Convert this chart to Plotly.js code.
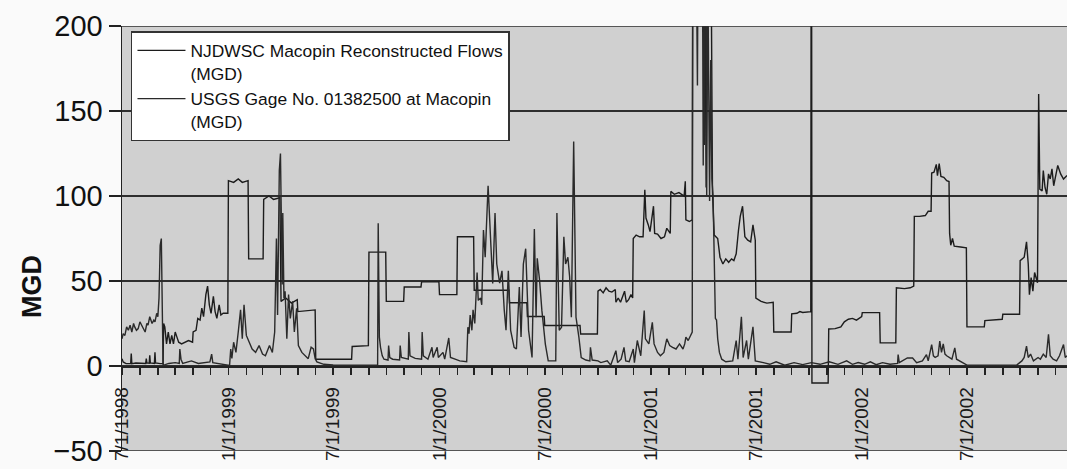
<!DOCTYPE html>
<html>
<head>
<meta charset="utf-8">
<script src="https://cdn.plot.ly/plotly-3.0.1.min.js"></script>
<style>
  html, body { margin: 0; padding: 0; background: #fafafa; }
  #chart { width: 1067px; height: 469px; }
</style>
</head>
<body>
<div id="chart"></div>
<script>
// ---- Data ----
const reconName = "NJDWSC Macopin Reconstructed Flows<br>(MGD)";
const gageName = "USGS Gage No. 01382500 at Macopin<br>(MGD)";

const reconDates = [
"1998-07-01","1998-07-03","1998-07-08","1998-07-16","1998-07-17","1998-07-18","1998-07-25","1998-08-01","1998-08-11","1998-08-12","1998-08-13","1998-08-17","1998-08-18","1998-08-19","1998-08-26","1998-08-27","1998-08-28","1998-09-05","1998-09-10","1998-09-11","1998-09-13","1998-09-16","1998-09-19","1998-09-22","1998-09-25","1998-09-28","1998-10-01","1998-10-04","1998-10-07","1998-10-12","1998-10-18","1998-10-24","1998-10-31","1998-11-01","1998-11-06","1998-11-09","1998-11-13","1998-11-16","1998-11-19","1998-11-23","1998-11-26","1998-11-29","1998-12-02","1998-12-06","1998-12-09","1998-12-12","1998-12-16","1998-12-19","1998-12-23","1998-12-31",
"1999-01-01","1999-01-10","1999-01-18","1999-01-25","1999-02-04","1999-02-05","1999-03-02","1999-03-03","1999-03-12","1999-03-20","1999-03-31","1999-04-02","1999-04-10","1999-04-20","1999-04-30","1999-05-01","1999-05-31","1999-06-01","1999-08-02","1999-08-03","1999-08-31","1999-09-01","1999-09-30","1999-10-01","1999-10-31","1999-11-01","1999-11-30","1999-12-01","1999-12-31",
"2000-01-01","2000-01-31","2000-02-01","2000-02-29","2000-03-01","2000-04-30","2000-05-01","2000-05-31","2000-06-01","2000-06-30","2000-07-01","2000-08-31","2000-09-01","2000-09-30",
"2000-10-01","2000-10-05","2000-10-10","2000-10-15","2000-10-20","2000-10-25","2000-10-31","2000-11-01","2000-11-05","2000-11-09","2000-11-13","2000-11-16","2000-11-19","2000-11-23","2000-11-27","2000-11-30","2000-12-01","2000-12-06","2000-12-12","2000-12-18","2000-12-21","2000-12-23","2000-12-27","2000-12-30",
"2001-01-05","2001-01-07","2001-01-12","2001-01-18","2001-01-24","2001-01-28","2001-02-03","2001-02-04","2001-02-10","2001-02-18","2001-02-27","2001-03-01","2001-03-02","2001-03-08","2001-03-13",
"2001-03-14","2001-03-20","2001-03-24","2001-04-04","2001-04-06","2001-04-08","2001-04-15","2001-04-17","2001-04-20","2001-04-26","2001-04-30","2001-05-05","2001-05-10","2001-05-15","2001-05-20","2001-05-24","2001-05-28","2001-06-01","2001-06-04","2001-06-08","2001-06-12","2001-06-17","2001-06-22","2001-06-26","2001-06-30","2001-07-01","2001-07-10","2001-07-20","2001-07-31","2001-08-01","2001-08-31","2001-09-01","2001-09-10","2001-09-15","2001-09-20","2001-10-04","2001-10-05","2001-10-06","2001-11-03","2001-11-04","2001-11-15","2001-11-25","2001-12-01","2001-12-08","2001-12-15","2001-12-22","2001-12-31",
"2002-01-01","2002-01-31","2002-02-01","2002-02-28","2002-03-01","2002-03-15","2002-03-25","2002-03-31","2002-04-01","2002-04-10","2002-04-20","2002-04-25","2002-04-30","2002-05-01","2002-05-05","2002-05-09","2002-05-11","2002-05-14","2002-05-17","2002-05-22","2002-05-27","2002-05-31","2002-06-01","2002-06-03","2002-06-06","2002-06-09","2002-06-20","2002-06-30","2002-07-01","2002-07-31","2002-08-01","2002-08-15","2002-08-31","2002-09-01","2002-09-30","2002-10-01","2002-10-08","2002-10-12","2002-10-15","2002-10-17","2002-10-20","2002-10-23","2002-10-26","2002-10-31","2002-11-02","2002-11-04","2002-11-08","2002-11-10","2002-11-13","2002-11-16","2002-11-19","2002-11-22","2002-11-25","2002-11-28","2002-12-01","2002-12-05","2002-12-10","2002-12-15","2002-12-21"
];
const reconValues = [
4.3,2.4,1.4,1.5,7.3,1.4,1.8,1.6,1.5,4.3,1.8,1.6,6.3,1.8,1.5,8,1.8,1.4,1.4,25,23,13,20,13,18,13,20,17,14,13,14,15,14,20,21,28,27,34,29,42,47,36,31,41,32,28,36,30,31,31,
109,108,110,108,109,63,63,98,100,98,99,38,40,37,39,32,33,4,4,11.5,12,67,67,38,38,46.5,46.5,49.5,49.5,
42,42,76,76,44.6,44.6,37.2,37.2,29.1,29.1,23.8,23.8,18.8,18.8,
44,45,43,46,44,43.5,45,37.5,40,37.5,41,44,37.5,39,42,40,75,77,76,76,103.6,87,83,79,
94,78,77.6,75,76,81,78,102.7,101,102,100,108.6,86,85,86,
270,250,280,240,105,230,220,102,77,75,64,60,63,61,63,62,66,80,88,94,76,74,73,83,74,40,38,37,37.5,20,20,30.7,31,32,31.5,32,400,-10,-10,21.8,22,23,26,27.5,28,27,29,
31.4,31.4,13.6,13.6,46,45.5,46,47,88,88,88.5,91,91,113.5,114,118.6,112,119,111.5,111,109,108.5,78,71,75,70.5,70,69.5,23,23,26.7,27,27.5,30.4,30.4,62,64,73,60,42,52,44,55,49,160,104,103,115,105,101,113,110,116,106,112,118,113,110,112
];

const gageDates = [
"1998-07-01","1998-07-03","1998-07-06","1998-07-09","1998-07-12","1998-07-15","1998-07-18","1998-07-21","1998-07-23","1998-07-26","1998-07-29","1998-08-01","1998-08-04","1998-08-07","1998-08-10","1998-08-13","1998-08-15","1998-08-18","1998-08-20","1998-08-22","1998-08-25","1998-08-27","1998-08-30","1998-09-01","1998-09-03","1998-09-05","1998-09-07","1998-09-08","1998-09-10","1998-09-20","1998-10-01","1998-10-08","1998-10-09","1998-10-11","1998-10-14","1998-10-29","1998-11-10","1998-11-30","1998-12-03","1998-12-05","1998-12-20",
"1999-01-03","1999-01-05","1999-01-07","1999-01-10","1999-01-14","1999-01-18","1999-01-22","1999-01-25","1999-01-28","1999-02-01","1999-02-06","1999-02-11","1999-02-17","1999-02-23","1999-03-01","1999-03-06","1999-03-13","1999-03-18","1999-03-22","1999-03-25","1999-03-27","1999-03-30","1999-04-01","1999-04-04","1999-04-05","1999-04-07","1999-04-09","1999-04-12","1999-04-15","1999-04-18","1999-04-22","1999-04-25","1999-04-29","1999-05-02","1999-05-08","1999-05-13","1999-05-19","1999-05-24","1999-05-28","1999-05-31","1999-06-03","1999-06-15","1999-07-01","1999-08-01","1999-09-16","1999-09-17","1999-09-19","1999-09-21","1999-09-24","1999-09-27","1999-10-04","1999-10-05","1999-10-07","1999-10-12","1999-10-24","1999-10-25","1999-10-27","1999-11-08","1999-11-09","1999-11-11","1999-11-20","1999-12-01","1999-12-02","1999-12-04","1999-12-12","1999-12-19","1999-12-21","1999-12-28","1999-12-30",
"2000-01-07","2000-01-10","2000-01-17","2000-01-20","2000-01-28","2000-02-05","2000-02-17","2000-02-19","2000-02-21","2000-02-23","2000-02-26","2000-02-28","2000-03-02","2000-03-06","2000-03-08","2000-03-12","2000-03-14","2000-03-17","2000-03-20","2000-03-25","2000-03-30","2000-04-02","2000-04-06","2000-04-09","2000-04-14","2000-04-18","2000-04-22","2000-04-25","2000-04-29","2000-05-03","2000-05-09","2000-05-13","2000-05-18","2000-05-21","2000-05-25","2000-05-29","2000-06-03","2000-06-09","2000-06-13","2000-06-16","2000-06-18","2000-06-22","2000-06-26","2000-07-02","2000-07-07","2000-07-20","2000-07-22","2000-07-26","2000-07-30","2000-08-03","2000-08-06","2000-08-10","2000-08-13","2000-08-16","2000-08-20","2000-08-24","2000-08-29","2000-09-02","2000-09-10","2000-09-17","2000-09-18","2000-09-21","2000-10-01","2000-10-06","2000-10-17","2000-10-23","2000-11-01","2000-11-04","2000-11-10","2000-11-15","2000-11-18","2000-11-24","2000-12-01","2000-12-03","2000-12-08","2000-12-14","2000-12-20","2000-12-22","2000-12-28",
"2001-01-03","2001-01-06","2001-01-12","2001-01-17","2001-01-23","2001-01-28","2001-02-02","2001-02-07","2001-02-13","2001-02-19","2001-02-25","2001-02-28","2001-03-02","2001-03-06","2001-03-10","2001-03-13",
"2001-03-14","2001-03-16","2001-03-19","2001-03-22","2001-03-24","2001-03-27","2001-03-30","2001-04-01","2001-04-02","2001-04-03","2001-04-04","2001-04-06","2001-04-07","2001-04-09","2001-04-11","2001-04-12","2001-04-14","2001-04-16","2001-04-18","2001-04-20","2001-04-22","2001-04-24","2001-04-26","2001-04-29","2001-05-03","2001-05-10","2001-05-22","2001-05-28","2001-05-31","2001-06-06","2001-06-09","2001-06-15","2001-06-18","2001-06-26","2001-06-30","2001-07-14","2001-07-25","2001-08-05","2001-08-20","2001-09-05","2001-09-20","2001-10-05","2001-10-20","2001-11-05","2001-11-20","2001-12-05","2001-12-15","2001-12-25",
"2002-01-05","2002-01-15","2002-01-25","2002-02-05","2002-02-18","2002-03-03","2002-03-04","2002-03-06","2002-03-20","2002-03-29","2002-04-05","2002-04-15","2002-04-22","2002-04-25","2002-05-01","2002-05-04","2002-05-07","2002-05-12","2002-05-15","2002-05-18","2002-05-21","2002-05-24","2002-05-27","2002-06-05","2002-06-10","2002-06-13","2002-06-22","2002-07-01","2002-08-01","2002-09-01","2002-09-25","2002-10-04","2002-10-08","2002-10-12","2002-10-15","2002-10-19","2002-10-24","2002-11-01","2002-11-05","2002-11-10","2002-11-15","2002-11-19","2002-11-22","2002-11-27","2002-12-03","2002-12-08","2002-12-15","2002-12-18","2002-12-21"
];
const gageValues = [
16,19,18,23,21,24,20,25,23,21,22,26,24,22,20,25,24,29,27,25,27,26,31,29,40,71,75,44,0.4,1.5,2,1.5,10,4,1.5,3,1.5,2.4,7,2,1.2,
0.4,10,4.4,14,8,20,33,16,36,18,14,10,8,12,7,6,12,8,20,75,30,115,125,48,90,40,44,16,42,28,38,20,34,12,8,6.5,4.3,11,10,4.3,2.4,1,0.6,0.5,0.5,84,17,11,6,4,3.5,12,5,4,3.5,12,5,4,20,6,4.5,4,20,6,4,11,5,11,5,
8,4,16.5,5,4,3,2.5,22.8,19,30,21,33,25,55,38.6,40,36,80,64,106,70,48.5,90,60,48.7,56,32.7,21,56,21,11,10,46.5,17,60,69,21,5,80.6,28.7,63.4,50.5,32.7,12.9,3,3,90,21,22.8,76,60,64,52.5,28.7,132,28.7,17,5,3.5,3,11,3.5,3,2,3,0.5,9,2,4,11,3,2.5,10,2,15,6,32.6,16,13,
25.7,13,8,6,8,16,12,11,10,13,10,13,17,15,18,20,
260,350,280,165,330,250,300,118,280,130,250,200,100,230,160,97,180,110,100,60,28,27,16,8,4,2.5,3,15,4,29,5,15,4,23,3,2,1,2.5,0.5,2,0.8,2,1,2.5,1,3,1,2,
1,2.5,0.8,2,1,1.5,6.7,2,4.7,4.7,2,3,6.7,3,12.6,6,5,6,14.6,8,13,7,6,4,10.7,4,2,0.5,0.4,0.4,0.5,3,5,11.7,5,7,3,5,4,7,5,18.6,6,4,3,6,12.6,5,6
];

const yTicks = [-50, 0, 50, 100, 150, 200];

// ---- Chart ----
const FONT = "Liberation Sans, Arial, Helvetica, sans-serif";

const traces = [
  { x: reconDates, y: reconValues, name: reconName, type: "scatter", mode: "lines",
    line: { color: "#1c1c1c", width: 1.4 } },
  { x: gageDates, y: gageValues, name: gageName, type: "scatter", mode: "lines",
    line: { color: "#2a2a2a", width: 1.4 } }
];

const layout = {
  width: 1067, height: 469,
  margin: { l: 122, r: 0, t: 26, b: 18, pad: 0 },
  paper_bgcolor: "#fafafa",
  plot_bgcolor: "#d0d0d0",
  font: { family: FONT, color: "#111" },
  showlegend: true,
  legend: {
    x: 0.0095, y: 0.988, xanchor: "left", yanchor: "top",
    bgcolor: "#ffffff", bordercolor: "#333", borderwidth: 1.5,
    font: { family: FONT, size: 17.4, color: "#111" },
    valign: "top", itemwidth: 48, tracegroupgap: 0,
    entrywidth: 397, entrywidthmode: "pixels"
  },
  xaxis: {
    type: "date",
    range: ["1998-07-01", "2002-12-21"],
    anchor: "free", position: 0.2,
    showline: true, linecolor: "#222", linewidth: 1.5,
    ticks: "outside", ticklen: 7, tickwidth: 1.5, tickcolor: "#222",
    tick0: "1998-07-01", dtick: "M6",
    tickformat: "%-m/%-d/%Y", tickangle: -90,
    tickfont: { family: FONT, size: 19, color: "#1a1a1a" },
    ticklabelstandoff: 5,
    minor: { dtick: "M1", tick0: "1998-07-01", ticks: "outside", ticklen: 7, tickwidth: 1.5, tickcolor: "#222", showgrid: false },
    showgrid: false, zeroline: false
  },
  yaxis: {
    range: [-50, 200],
    tickvals: yTicks,
    showline: true, linecolor: "#222", linewidth: 1.5,
    ticks: "outside", ticklen: 12, tickwidth: 1.2, tickcolor: "#222",
    tickfont: { family: FONT, size: 29, color: "#111" },
    ticklabelstandoff: 0,
    showgrid: true, gridcolor: "#2e2e2e", gridwidth: 1.5,
    zeroline: false
  },
  shapes: [
    { type: "line", xref: "paper", x0: 0, x1: 1, yref: "y", y0: 200, y1: 200, line: { color: "#2e2e2e", width: 1.5 } },
    { type: "line", xref: "paper", x0: 0, x1: 1, yref: "y", y0: -50, y1: -50, line: { color: "#2e2e2e", width: 1.5 } }
  ],
  annotations: [
    { text: "<b>MGD</b>", xref: "paper", yref: "paper", x: -0.0952, y: 0.386,
      xanchor: "center", yanchor: "middle", textangle: -90, showarrow: false,
      font: { family: FONT, size: 27, color: "#111" } }
  ]
};

Plotly.newPlot("chart", traces, layout, { displayModeBar: false, staticPlot: true });
</script>
</body>
</html>
